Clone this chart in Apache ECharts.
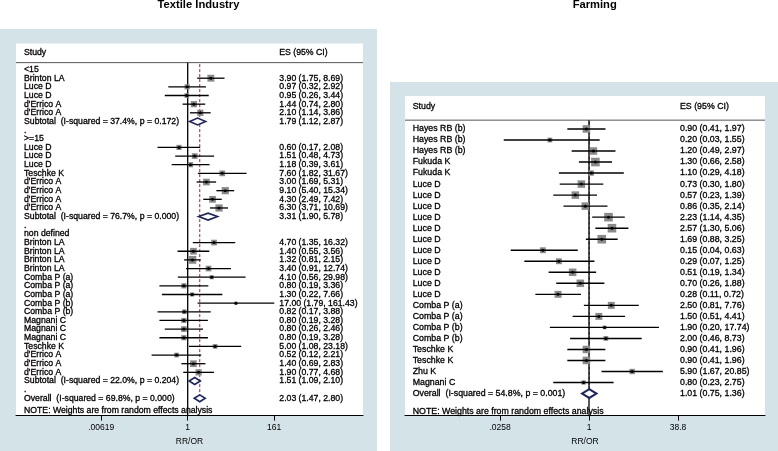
<!DOCTYPE html>
<html><head><meta charset="utf-8">
<script src="https://cdn.jsdelivr.net/npm/echarts@6/dist/echarts.min.js"></script>
<style>html,body{margin:0;padding:0;background:#fff}#c{width:778px;height:451px}</style>
</head><body><div id="c"></div>
<script>
// ---------- Textile Industry ----------
const textileLabels = ['<15','Brinton LA','Luce D','Luce D',"d'Errico A","d'Errico A",'Subtotal  (I-squared = 37.4%, p = 0.172)','.',
  '>=15','Luce D','Luce D','Luce D','Teschke K',"d'Errico A","d'Errico A","d'Errico A","d'Errico A",'Subtotal  (I-squared = 76.7%, p = 0.000)','.',
  'non defined','Brinton LA','Brinton LA','Brinton LA','Brinton LA','Comba P (a)','Comba P (a)','Comba P (a)','Comba P (b)','Comba P (b)',
  'Magnani C','Magnani C','Magnani C','Teschke K',"d'Errico A","d'Errico A","d'Errico A",'Subtotal  (I-squared = 22.0%, p = 0.204)','.',
  'Overall  (I-squared = 69.8%, p = 0.000)'];
const textileES = [null,3.90,0.97,0.95,1.44,2.10,1.79,null,
  null,0.60,1.51,1.18,7.60,3.00,9.10,4.30,6.30,3.31,null,
  null,4.70,1.40,1.32,3.40,4.10,0.80,1.30,17.00,0.82,0.80,0.80,0.80,5.00,0.52,1.40,1.90,1.51,null,
  2.03];
const textileLow = [null,1.75,0.32,0.26,0.74,1.14,1.12,null,
  null,0.17,0.48,0.39,1.82,1.69,5.40,2.49,3.71,1.90,null,
  null,1.35,0.55,0.81,0.91,0.56,0.19,0.22,1.79,0.17,0.19,0.26,0.19,1.08,0.12,0.69,0.77,1.09,null,
  1.47];
const textileHigh = [null,8.69,2.92,3.44,2.80,3.86,2.87,null,
  null,2.08,4.73,3.61,31.67,5.31,15.34,7.42,10.69,5.78,null,
  null,16.32,3.56,2.15,12.74,29.98,3.36,7.66,161.43,3.88,3.28,2.46,3.28,23.18,2.21,2.83,4.68,2.10,null,
  2.80];
const textileWeight = [null,5.0,2.8,2.3,4.0,4.0,null,null,
  null,2.8,3.4,2.8,3.4,4.7,5.4,4.7,5.4,null,null,
  null,3.4,4.7,6.3,3.4,1.8,2.8,1.8,1.0,2.3,2.8,3.4,2.8,2.3,2.3,4.7,4.0,null,null,
  null];
const textileTicks = [0.00619, 1, 161];
const textileTickLabels = ['.00619', '1', '161'];

// ---------- Farming ----------
const farmingLabels = ['Hayes RB (b)','Hayes RB (b)','Hayes RB (b)','Fukuda K','Fukuda K',
  'Luce D','Luce D','Luce D','Luce D','Luce D','Luce D','Luce D','Luce D','Luce D','Luce D','Luce D',
  'Comba P (a)','Comba P (a)','Comba P (b)','Comba P (b)','Teschke K','Teschke K','Zhu K','Magnani C',
  'Overall  (I-squared = 54.8%, p = 0.001)'];
const farmingES = [0.90,0.20,1.20,1.30,1.10,0.73,0.57,0.86,2.23,2.57,1.69,0.15,0.29,0.51,0.70,0.28,2.50,1.50,1.90,2.00,0.90,0.90,5.90,0.80,1.01];
const farmingLow = [0.41,0.03,0.49,0.66,0.29,0.30,0.23,0.35,1.14,1.30,0.88,0.04,0.07,0.19,0.26,0.11,0.81,0.51,0.20,0.46,0.41,0.41,1.67,0.23,0.75];
const farmingHigh = [1.97,1.55,2.97,2.58,4.18,1.80,1.39,2.14,4.35,5.06,3.25,0.63,1.25,1.34,1.88,0.72,7.76,4.41,17.74,8.73,1.96,1.96,20.85,2.75,1.36];
const farmingWeight = [4.9,2.0,4.9,6.4,2.5,4.9,4.9,4.9,6.4,6.4,6.4,3.0,3.0,4.9,4.9,4.2,4.2,4.2,1.2,2.0,4.9,4.9,2.5,1.6,null];
const farmingTicks = [0.0258, 1, 38.8];
const farmingTickLabels = ['.0258', '1', '38.8'];

const FONT = '"Liberation Sans", Arial, Helvetica, sans-serif';
const BLUE = '#d3e3e8';
const NAVY = '#1b2466';

function fmt(v){ return v.toFixed(2); }

function txt(text, x, y, fs, align){
  return {type:'text', silent:true, style:{text:text, x:x, y:y, fill:'#000', stroke:'#000', lineWidth:0.3,
    font: fs + 'px ' + FONT, textAlign: align || 'left', textVerticalAlign:'middle'}};
}

function forestRender(labels, es, lo, hi, wt, cfg){
  return function(params, api){
    const i = params.dataIndex;
    const row = i + 1;
    const cs = params.coordSys;
    const y = api.coord([1, row])[1];
    const rowH = api.coord([1, row + 1])[1] - y;
    const ch = [];
    ch.push(txt(labels[i], cs.x + cfg.labelDx, y, cfg.fs));
    if (es[i] != null) {
      ch.push(txt(fmt(es[i]) + ' (' + fmt(lo[i]) + ', ' + fmt(hi[i]) + ')', cs.x + cfg.esDx, y, cfg.fs));
      const px = api.coord([es[i], row])[0];
      const lx = api.coord([lo[i], row])[0];
      const hx = api.coord([hi[i], row])[0];
      if (wt[i] != null) {
        const s = cfg.sizeK * Math.sqrt(wt[i]);
        ch.push({type:'rect', shape:{x:px - s/2, y:y - s/2, width:s, height:s}, style:{fill:'#8a8a8a'}});
        ch.push({type:'line', shape:{x1:lx, y1:y, x2:hx, y2:y}, style:{stroke:'#000', lineWidth:cfg.ciW}});
        ch.push({type:'circle', shape:{cx:px, cy:y, r:1.5}, style:{fill:'#000'}});
      } else {
        const h = rowH * 0.4;
        ch.push({type:'polygon', shape:{points:[[lx,y],[px,y-h],[hx,y],[px,y+h]]},
          style:{fill:'#fff', stroke:NAVY, lineWidth:cfg.diaW}});
      }
    }
    return {type:'group', children:ch};
  };
}

function frameRender(es, cfg){
  return function(params, api){
    const cs = params.coordSys;
    const yHead = api.coord([1, -1])[1];
    const yLine = api.coord([1, 0.2])[1];
    const overall = es[es.length - 1];
    const nRows = es.length;
    const xOne = api.coord([1, 0])[0];
    const xOv = api.coord([overall, 0])[0];
    const yOv = api.coord([1, nRows - 0.4])[1];
    const yNote = api.coord([1, cfg.noteRow])[1];
    const bottom = cs.y + cs.height;
    return {type:'group', children:[
      txt('Study', cs.x + cfg.labelDx, yHead, cfg.fs),
      txt('ES (95% CI)', cs.x + cfg.esDx, yHead, cfg.fs),
      {type:'line', shape:{x1:cs.x, y1:yLine, x2:cs.x + cs.width, y2:yLine}, style:{stroke:'#555', lineWidth:1}},
      {type:'line', shape:{x1:xOv, y1:yLine + 1.5, x2:xOv, y2:yOv}, style:{stroke:'#8b2e2e', lineWidth:1, lineDash:[3,2]}},
      {type:'line', shape:{x1:xOne, y1:yLine, x2:xOne, y2:bottom}, style:{stroke:'#000', lineWidth:1.3}},
      txt('NOTE: Weights are from random effects analysis', cs.x + cfg.labelDx, yNote, cfg.fs)
    ]};
  };
}

function xAxisFor(gridIndex, minExp, maxExp, ticks, tickLabels, nameGap){
  return {
    type:'log', logBase:10, gridIndex:gridIndex, position:'bottom',
    min: Math.pow(10, minExp), max: Math.pow(10, maxExp),
    splitLine:{show:false},
    axisLine:{show:true, onZero:false, lineStyle:{color:'#000', width:1}},
    axisTick:{show:true, customValues:ticks, length:5, inside:false, lineStyle:{color:'#000', width:1}},
    axisLabel:{show:true, customValues:ticks, margin:7.5, color:'#000', fontSize:8.5, fontFamily:FONT,
      formatter:function(v){ const k = ticks.findIndex(t => Math.abs(Math.log10(t) - Math.log10(v)) < 1e-6); return k >= 0 ? tickLabels[k] : ''; }},
    minorTick:{show:false},
    name:'RR/OR', nameLocation:'middle', nameGap:nameGap,
    nameTextStyle:{color:'#000', fontSize:8.5, fontFamily:FONT}
  };
}

const cfgT = {labelDx:8, esDx:263.3, fs:8.7, sizeK:3.1, ciW:1.3, diaW:1.6, noteRow:40.4};
const cfgF = {labelDx:7.7, esDx:275, fs:8.8, sizeK:3.4, ciW:1.4, diaW:2, noteRow:26.6};

const chart = echarts.init(document.getElementById('c'), null, {renderer:'canvas'});
chart.setOption({
  animation:false,
  backgroundColor:'#fff',
  title:[
    {text:'Textile Industry', left:198.5, top:-1, textAlign:'center', padding:0,
      textStyle:{fontSize:11.2, fontWeight:'bold', color:'#000', fontFamily:FONT}},
    {text:'Farming', left:594.7, top:-1, textAlign:'center', padding:0,
      textStyle:{fontSize:11.2, fontWeight:'bold', color:'#000', fontFamily:FONT}}
  ],
  graphic:{elements:[
    {type:'rect', z:-10, silent:true, shape:{x:0, y:29, width:377, height:422}, style:{fill:BLUE}},
    {type:'rect', z:-10, silent:true, shape:{x:390, y:82, width:388, height:369}, style:{fill:BLUE}}
  ]},
  grid:[
    {left:16, top:43.6, width:347, height:374.1, show:true, backgroundColor:'#fff', borderWidth:0, containLabel:false},
    {left:405, top:95.9, width:360, height:319.9, show:true, backgroundColor:'#fff', borderWidth:0, containLabel:false}
  ],
  xAxis:[
    xAxisFor(0, -4.380, 4.472, textileTicks, textileTickLabels, 17),
    xAxisFor(1, -3.286, 3.143, farmingTicks, farmingTickLabels, 20)
  ],
  yAxis:[
    {type:'value', gridIndex:0, inverse:true, min:-2, max:41, show:false, splitLine:{show:false}},
    {type:'value', gridIndex:1, inverse:true, min:-2, max:27, show:false, splitLine:{show:false}}
  ],
  series:[
    {type:'custom', name:'textileFrame', xAxisIndex:0, yAxisIndex:0, clip:false, silent:true, z:2,
      data:[[1,0]], renderItem:frameRender(textileES, cfgT)},
    {type:'custom', name:'textile', xAxisIndex:0, yAxisIndex:0, clip:false, silent:true, z:3,
      data:textileLabels.map((l,i)=>[textileES[i] != null ? textileES[i] : 1, i + 1]),
      renderItem:forestRender(textileLabels, textileES, textileLow, textileHigh, textileWeight, cfgT)},
    {type:'custom', name:'farmingFrame', xAxisIndex:1, yAxisIndex:1, clip:false, silent:true, z:2,
      data:[[1,0]], renderItem:frameRender(farmingES, cfgF)},
    {type:'custom', name:'farming', xAxisIndex:1, yAxisIndex:1, clip:false, silent:true, z:3,
      data:farmingLabels.map((l,i)=>[farmingES[i], i + 1]),
      renderItem:forestRender(farmingLabels, farmingES, farmingLow, farmingHigh, farmingWeight, cfgF)}
  ]
});
</script>
</body></html>
